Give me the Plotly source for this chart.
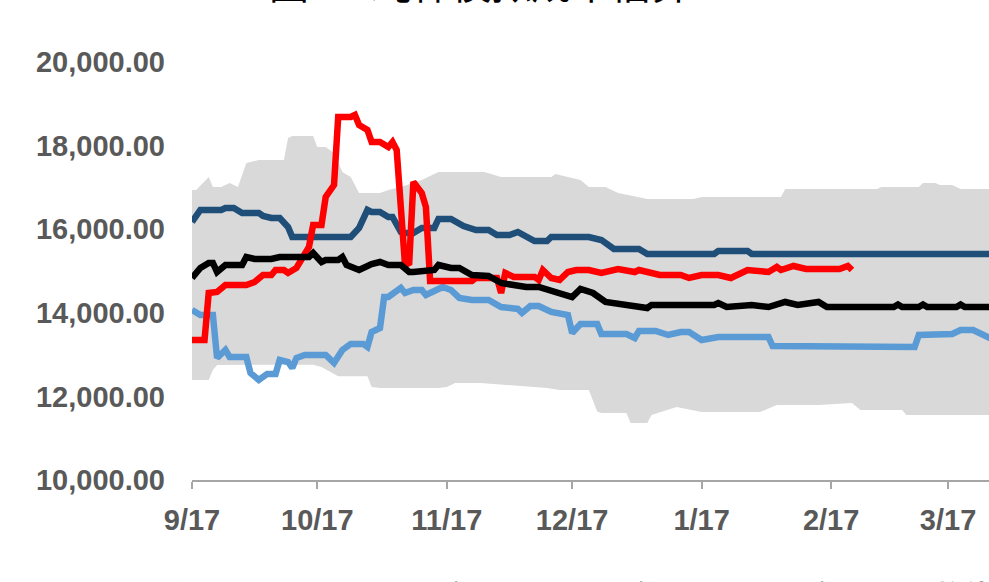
import pandas as pd
import plotly.graph_objects as go

# ---------------- data (day offsets from 9/17) ----------------
base_date = "2022-09-17"

band_upper_days = [0, 1, 4, 5, 7, 9, 11, 13, 16, 22, 23, 24, 29, 30, 32, 34, 36, 38, 40, 45, 47, 50, 55, 59, 70,
                   74, 86, 87, 93, 95, 99, 102, 109, 120, 122, 141, 142, 164, 165, 174, 175, 178, 179, 182, 184, 192]
band_upper_vals = [16938, 16938, 17249, 17010, 17010, 17106, 17010, 17584, 17656, 17656, 18182, 18230, 18230, 17967,
                   17967, 17823, 17369, 17249, 16866, 16866, 16938, 17010, 17177, 17369, 17369, 17249, 17249, 17321,
                   17177, 17010, 17010, 16866, 16723, 16723, 16771, 16771, 16962, 16962, 17010, 17010, 17106, 17106,
                   17058, 17058, 16962, 16962]

band_lower_days = [0, 4, 5, 6, 13, 15, 29, 31, 35, 42, 43, 45, 59, 61, 63, 69, 75, 85, 88, 95, 97, 98, 104, 105,
                   109, 110, 116, 122, 136, 140, 150, 158, 160, 170, 171, 192]
band_lower_vals = [12393, 12393, 12632, 12752, 12752, 12760, 12760, 12704, 12480, 12480, 12226, 12202, 12202, 12226,
                   12321, 12321, 12280, 12200, 12154, 12154, 11640, 11604, 11604, 11364, 11364, 11556, 11747, 11628,
                   11628, 11795, 11795, 11843, 11676, 11676, 11556, 11556]

y2021_days = [0, 2, 5, 6, 8, 9, 13, 14, 16, 18, 20, 21, 23, 24, 25, 27, 32, 34, 36, 38, 41, 42, 43, 45, 46, 47, 50,
              51, 53, 55, 56, 60, 62, 64, 67, 71, 74, 78, 79, 81, 83, 86, 90, 91, 93, 97, 98, 104, 106, 107, 111, 114,
              117, 119, 122, 126, 138, 139, 173, 174, 182, 184, 187, 190, 192]
y2021_vals = [14068, 13948, 13948, 12919, 13111, 12943, 12943, 12561, 12393, 12537, 12537, 12871, 12823, 12680, 12919,
              12991, 12991, 12800, 13111, 13254, 13254, 13182, 13541, 13637, 14378, 14378, 14594, 14474, 14546, 14546,
              14426, 14618, 14546, 14355, 14307, 14307, 14139, 14092, 13996, 14163, 14163, 14020, 13948, 13517, 13733,
              13733, 13493, 13493, 13398, 13565, 13565, 13469, 13541, 13541, 13350, 13422, 13422, 13206, 13180, 13469,
              13493, 13589, 13589, 13422, 13350]

y2022_days = [0, 2, 7, 8, 10, 12, 16, 17, 19, 21, 23, 24, 38, 40, 42, 43, 45, 47, 48, 50, 51, 53, 55, 58, 59, 62, 65,
              68, 71, 73, 76, 78, 82, 85, 86, 95, 98, 101, 107, 109, 125, 126, 133, 134, 192]
y2022_vals = [16172, 16460, 16460, 16508, 16508, 16388, 16388, 16316, 16268, 16268, 16053, 15814, 15814, 16029, 16460,
              16412, 16412, 16292, 16292, 15934, 15910, 15910, 16029, 16029, 16244, 16244, 16077, 15981, 15981, 15862,
              15862, 15934, 15718, 15718, 15814, 15814, 15742, 15527, 15527, 15407, 15407, 15479, 15479, 15407, 15407]

y2023_days = [0, 3, 4, 6, 8, 13, 15, 17, 19, 20, 22, 23, 25, 26, 28, 29, 31, 32, 34, 35, 38, 39, 40, 42, 43, 45, 47,
              48, 49, 51, 52, 53, 55, 56, 57, 67, 68, 73, 74, 75, 77, 82, 83, 84, 86, 88, 90, 92, 95, 98, 102, 106, 107,
              112, 117, 119, 122, 126, 129, 133, 138, 140, 141, 144, 147, 155, 157, 158]
y2023_vals = [13350, 13350, 14474, 14498, 14665, 14665, 14737, 14905, 14905, 15024, 15024, 14953, 15072, 15263, 15575,
              16101, 16101, 16770, 17058, 18684, 18684, 18732, 18493, 18373, 18086, 18086, 17967, 18086, 17895, 15144,
              15192, 17130, 16866, 16532, 14760, 14760, 14833, 14833, 14474, 14953, 14857, 14857, 14785, 15024, 14833,
              14785, 14976, 15024, 15024, 14953, 15048, 14976, 15024, 14905, 14905, 14833, 14905, 14905, 14833, 15024,
              14976, 15096, 15024, 15120, 15048, 15048, 15120, 15024]

mean_days = [0, 2, 4, 5, 6, 8, 12, 13, 15, 19, 21, 28, 29, 31, 32, 35, 36, 37, 40, 43, 45, 47, 50, 52, 53, 58, 59, 62,
             64, 67, 71, 74, 77, 80, 83, 87, 91, 93, 96, 99, 103, 106, 109, 110, 125, 126, 128, 134, 138, 142, 145,
             150, 152, 168, 169, 170, 174, 175, 176, 183, 184, 185, 192]
mean_vals = [14833, 15072, 15192, 15192, 14976, 15144, 15144, 15335, 15287, 15287, 15335, 15335, 15431, 15216, 15263,
             15263, 15335, 15144, 15024, 15168, 15216, 15144, 15144, 14976, 14976, 15024, 15144, 15072, 15072, 14905,
             14881, 14713, 14665, 14618, 14618, 14498, 14378, 14570, 14474, 14259, 14211, 14187, 14115, 14187, 14187,
             14235, 14139, 14187, 14139, 14259, 14187, 14259, 14139, 14139, 14200, 14139, 14139, 14200, 14139, 14139,
             14200, 14139, 14139]

tick_days = [0, 30, 61, 91, 122, 153, 181]
tick_labels = ["9/17", "10/17", "11/17", "12/17", "1/17", "2/17", "3/17"]
y_ticks = [10000, 12000, 14000, 16000, 18000, 20000]

legend_names = ["区间", "2021年", "2022年", "2023年", "均值"]
title_text = "图1：纯棉模拟成本估算"

# ---------------- helpers ----------------
b0 = pd.Timestamp(base_date)


def to_dates(days):
    return [b0 + pd.Timedelta(days=d) for d in days]


fig = go.Figure()

band_x = to_dates(band_upper_days) + to_dates(band_lower_days)[::-1]
band_y = band_upper_vals + band_lower_vals[::-1]
fig.add_trace(go.Scatter(x=band_x, y=band_y, fill="toself", fillcolor="#D9D9D9",
                         line=dict(width=0, color="#D9D9D9"), mode="lines",
                         name=legend_names[0], hoverinfo="skip", showlegend=False))

series = [
    (y2021_days, y2021_vals, "#5B9BD5", legend_names[1]),
    (y2022_days, y2022_vals, "#1F4E79", legend_names[2]),
    (y2023_days, y2023_vals, "#FF0000", legend_names[3]),
    (mean_days, mean_vals, "#000000", legend_names[4]),
]
for d, v, c, n in series:
    fig.add_trace(go.Scatter(x=to_dates(d), y=v, mode="lines", name=n,
                             line=dict(color=c, width=6.5), showlegend=False))

W, H = 989, 582
L, T = 192, 62
B = H - 480
plot_h = H - T - B
plot_w = W - L


def px_x(px):  # window pixel -> paper x
    return (px - L) / plot_w


def px_y(py):  # window pixel -> paper y
    return (H - B - py) / plot_h


tick_font = dict(family="Liberation Sans", size=29, color="#595959", weight="bold")

fig.update_layout(
    width=W, height=H,
    margin=dict(l=L, r=0, t=T, b=B, pad=0),
    paper_bgcolor="white", plot_bgcolor="white",
    xaxis=dict(type="date",
               range=[b0, b0 + pd.Timedelta(days=190.8)],
               tickvals=to_dates(tick_days), ticktext=tick_labels,
               ticks="outside", ticklen=7, tickwidth=1.5, tickcolor="#A6A6A6",
               showline=True, linecolor="#A6A6A6", linewidth=1.5,
               showgrid=False, zeroline=False, tickfont=tick_font,
               ticklabelstandoff=6),
    yaxis=dict(range=[10000, 20000], tickvals=y_ticks, tickformat=",.2f",
               showgrid=False, zeroline=False, showline=False, ticks="",
               tickfont=tick_font, ticklabelstandoff=26),
)

# title (mostly above the visible area, as in the reference crop)
fig.add_annotation(text=title_text, xref="paper", yref="paper",
                   x=px_x(480), y=px_y(13), xanchor="center", yanchor="bottom",
                   showarrow=False, font=dict(family="Noto Sans CJK SC", size=40, color="#000000"))

# legend texts (mostly below the visible area)
legend_lefts = [150, 383, 568, 749, 935]
for name, lx in zip(legend_names, legend_lefts):
    fig.add_annotation(text=name, xref="paper", yref="paper",
                       x=px_x(lx), y=px_y(572), xanchor="left", yanchor="top",
                       showarrow=False,
                       font=dict(family="Noto Sans CJK SC", size=27, color="#595959", weight="bold"))

fig.write_html("out.html", config={"displayModeBar": False},
               post_script="document.body.style.margin='0px';")
